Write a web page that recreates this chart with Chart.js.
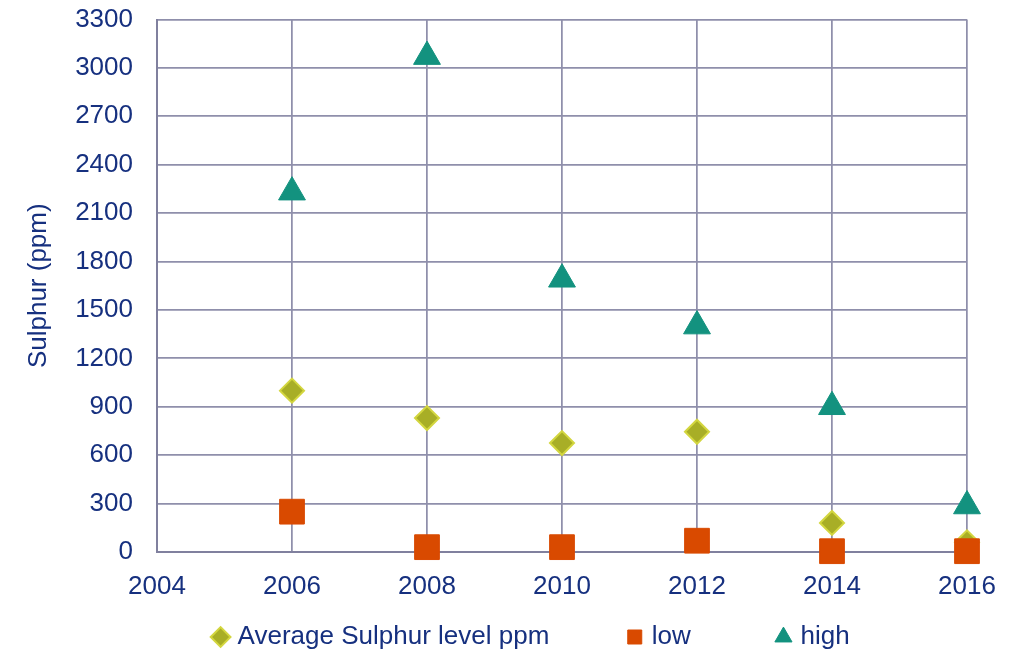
<!DOCTYPE html>
<html>
<head>
<meta charset="utf-8">
<script src="https://cdn.jsdelivr.net/npm/chart.js@4/dist/chart.umd.min.js"></script>
<style>
  html, body { margin: 0; padding: 0; background: #ffffff; }
  #wrap { width: 1015px; height: 652px; }
</style>
</head>
<body>
<div id="wrap"><canvas id="sulphurChart"></canvas></div>
<script>
var anos = [2006, 2008, 2010, 2012, 2014, 2016];
var mediaPpm = [1000, 830, 675, 745, 180, 60];
var baixo = [250, 30, 30, 70, 5, 5];
var alto = [2230, 3070, 1690, 1400, 900, 285];
var ticksX = [2004, 2006, 2008, 2010, 2012, 2014, 2016];
var ticksY = [0, 300, 600, 900, 1200, 1500, 1800, 2100, 2400, 2700, 3000, 3300];

var corTexto = '#16307f';
var corGrade = '#8f8fab';
var corEixo = '#80809e';
var fonte = { family: 'Liberation Sans, Arial, sans-serif', size: 26 };

function pontos(valores) {
    var lista = [];
    for (var i = 0; i < anos.length; i++) {
        lista.push({ x: anos[i], y: valores[i] });
    }
    return lista;
}

// espaços para afastar os itens da legenda como no original
var espacos = ['\u00a0'.repeat(11), '\u00a0'.repeat(12), '\u00a0'.repeat(8)];

var ctx = document.getElementById('sulphurChart').getContext('2d');

var chart = new Chart(ctx, {
    type: 'scatter',
    data: {
        datasets: [{
            label: 'Average Sulphur level ppm',
            data: pontos(mediaPpm),
            pointStyle: 'rectRot',
            pointRadius: 12,
            pointHoverRadius: 12,
            backgroundColor: '#a8ae26',
            borderColor: '#d3d63f',
            borderWidth: 2,
            clip: false,
            order: 1
        }, {
            label: 'low',
            data: pontos(baixo),
            pointStyle: 'rect',
            pointRadius: 17.5,
            pointHoverRadius: 17.5,
            backgroundColor: '#d94a00',
            borderColor: '#d94a00',
            borderWidth: 1,
            clip: false,
            order: 0
        }, {
            label: 'high',
            data: pontos(alto),
            pointStyle: 'triangle',
            pointRadius: 15.5,
            pointHoverRadius: 15.5,
            backgroundColor: '#13927f',
            borderColor: '#13927f',
            borderWidth: 1,
            clip: false,
            order: 0
        }]
    },
    options: {
        responsive: true,
        maintainAspectRatio: false,
        animation: false,
        layout: {
            padding: { top: 19.5, right: 48, bottom: -8, left: 0 }
        },
        plugins: {
            tooltip: { enabled: false },
            legend: {
                position: 'bottom',
                fullSize: false,
                labels: {
                    usePointStyle: true,
                    boxWidth: 8,
                    boxHeight: 14,
                    padding: 2,
                    color: corTexto,
                    font: fonte,
                    sort: function (a, b) { return a.datasetIndex - b.datasetIndex; },
                    generateLabels: function (chart) {
                        var itens = Chart.defaults.plugins.legend.labels.generateLabels(chart);
                        itens.forEach(function (item) {
                            item.text = item.text + espacos[item.datasetIndex];
                        });
                        return itens;
                    }
                }
            }
        },
        scales: {
            x: {
                type: 'linear',
                min: 2004,
                max: 2016,
                afterBuildTicks: function (scale) {
                    scale.ticks = ticksX.map(function (v) { return { value: v }; });
                },
                afterFit: function (scale) { scale.height = 70; },
                grid: { color: corGrade, lineWidth: 1.75, drawTicks: false },
                border: { color: corEixo, width: 2 },
                ticks: {
                    color: corTexto,
                    font: fonte,
                    padding: 19,
                    maxRotation: 0,
                    callback: function (v) { return String(v); }
                }
            },
            y: {
                min: 0,
                max: 3300,
                afterBuildTicks: function (scale) {
                    scale.ticks = ticksY.map(function (v) { return { value: v }; });
                },
                afterFit: function (scale) {
                    scale.width = 157;
                    scale.paddingTop = 0;
                    scale.paddingBottom = 0;
                },
                grid: { color: corGrade, lineWidth: 1.75, drawTicks: false },
                border: { color: corEixo, width: 2 },
                title: {
                    display: true,
                    text: 'Sulphur (ppm)',
                    color: corTexto,
                    font: fonte,
                    padding: { top: 23, bottom: 0 }
                },
                ticks: {
                    color: corTexto,
                    font: fonte,
                    padding: 24,
                    callback: function (v) { return String(v); }
                }
            }
        }
    }
});
</script>
</body>
</html>
